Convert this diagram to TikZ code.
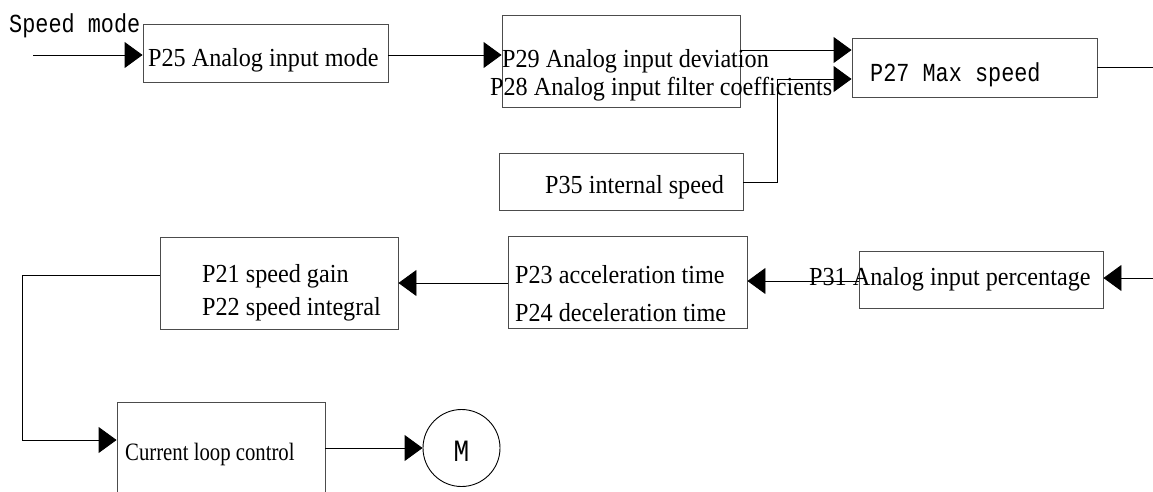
\documentclass[tikz,border=0pt]{standalone}
\usepackage{fontspec}
\setmainfont{Liberation Serif}[FakeStretch=0.93]
\setmonofont{Liberation Mono}[FakeStretch=0.84]
\newfontfamily\narrowserif{Liberation Serif}[FakeStretch=0.83]
\usetikzlibrary{arrows.meta}
\begin{document}
\begin{tikzpicture}[x=1pt,y=-1pt,
  blk/.style={draw=black!70, line width=0.9pt, inner sep=0pt, fill=none},
  lbl/.style={anchor=base west, inner sep=0pt, font=\fontsize{26}{30}\selectfont},
  mlbl/.style={anchor=base west, inner sep=0pt, font=\fontsize{26}{30}\ttfamily},
  wire/.style={draw=black, line width=0.9pt},
  arr/.style={wire, -{Triangle[length=18pt,width=26pt]}}]
\useasboundingbox (0,0) rectangle (1153,491);
\clip (0,0) rectangle (1153,491);

% blocks
\node[blk, minimum width=245pt, minimum height=58pt] (p25) at (265.5,53) {};
\node[blk, minimum width=238pt, minimum height=92pt] (p29) at (621,61) {};
\node[blk, minimum width=245pt, minimum height=59pt] (p27) at (974.5,67.5) {};
\node[blk, minimum width=244pt, minimum height=57pt] (p35) at (621,182) {};
\node[blk, minimum width=244pt, minimum height=57pt] (p31) at (981,279.5) {};
\node[blk, minimum width=239pt, minimum height=92pt] (p23) at (627.5,282) {};
\node[blk, minimum width=238pt, minimum height=92pt] (p21) at (279,283) {};
\node[blk, minimum width=208pt, minimum height=120pt] (cur) at (221,462) {};
\node[blk, draw=black, circle, minimum size=77pt] (m) at (461.5,448) {};

% texts
\node[mlbl] (tsm) at (9,32) {Speed mode};
\node[lbl] (t25) at (148,66) {P25 Analog input mode};
\node[lbl] (t29) at (502,67) {P29 Analog input deviation};
\node[lbl] (t28) at (490,95) {P28 Analog input filter coefficients};
\node[mlbl] (t27) at (870,81) {P27 Max speed};
\node[lbl] (t35) at (545,193) {P35 internal speed};
\node[lbl] (t31) at (809,285) {P31 Analog input percentage};
\node[lbl] (t23) at (515,283) {P23 acceleration time};
\node[lbl] (t24) at (515,321) {P24 deceleration time};
\node[lbl] (t21) at (202,282) {P21 speed gain};
\node[lbl] (t22) at (202,315) {P22 speed integral};
\node[lbl, font=\fontsize{25}{29}\narrowserif] (tcur) at (125,460) {Current loop control};
\node[anchor=base, inner sep=0pt, font=\fontsize{31}{34}\ttfamily] (tm) at (461.5,461) {M};

% wire routing points
\coordinate (in1) at (33,55);
\coordinate (ya) at (0,50);
\coordinate (yb) at (0,79);
\coordinate (xj) at (777,0);
\coordinate (out1) at (1153,67.5);
\coordinate (in2) at (1153,278);
\coordinate (yc) at (0,281);
\coordinate (yd) at (0,283);
\coordinate (xl) at (22,0);
\coordinate (ye) at (0,440);

% connectors
\draw[arr] (in1) -- (in1 -| p25.west);
\draw[arr] (p25.east |- in1) -- (p29.west |- in1);
\draw[arr] (p29.east |- ya) -- (p27.west |- ya);
\draw[arr] (p35.east) -- (xj |- p35.east) -- (xj |- yb) -- (p27.west |- yb);
\draw[wire] (p27.east) -- (out1);
\draw[arr] (in2) -- (p31.east |- in2);
\draw[arr] (p31.west |- yc) -- (p23.east |- yc);
\draw[arr] (p23.west |- yd) -- (p21.east |- yd);
\draw[arr] (p21.west |- t21) -- (xl |- t21) -- (xl |- ye) -- (cur.west |- ye);
\draw[arr] (cur.east |- m.west) -- (m.west);
\end{tikzpicture}
\end{document}
